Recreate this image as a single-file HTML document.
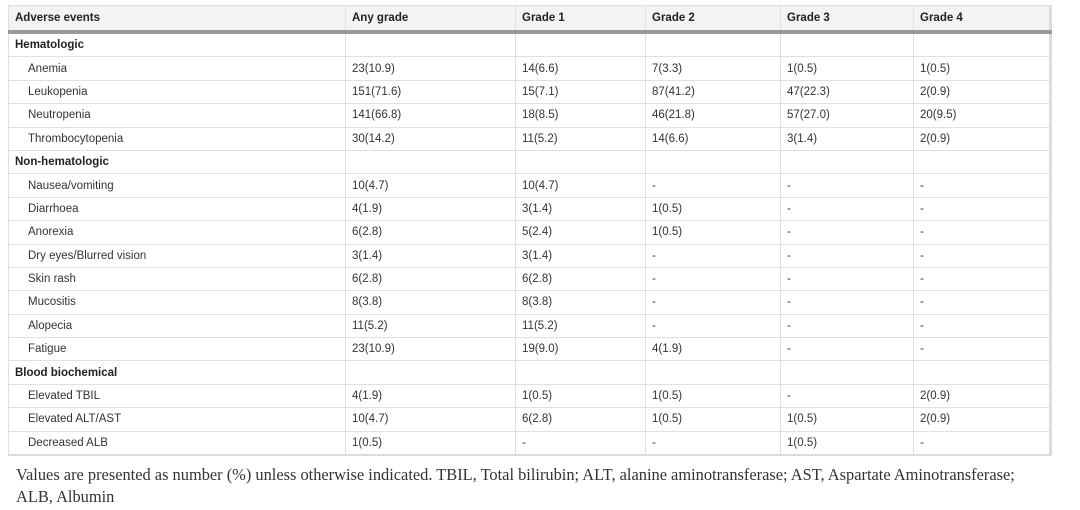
<!DOCTYPE html>
<html><head><meta charset="utf-8"><style>
body{margin:0;width:1080px;height:510px;background:#fff;font-family:"Liberation Sans",sans-serif;color:#333;overflow:hidden}
table{position:absolute;left:8px;top:5px;width:1044px;border-collapse:collapse;font-size:11.5px;border:1px solid #d6d6d6;border-right:3px solid #dcdcdc;border-bottom:2px solid #dcdcdc}
td,th{border:1px solid #e0e0e0;padding:0 6px;height:22.4px;text-align:left;white-space:nowrap}
th{background:#f3f3f3;height:24px;border-bottom:4px solid #9a9a9a;font-weight:bold;color:#222}
td.s{font-weight:bold;color:#222}
td.i{padding-left:19px}
.f{position:absolute;left:16px;top:464px;white-space:nowrap;font-family:"Liberation Serif",serif;font-size:16.4px;line-height:22px;color:#333}
</style></head><body>
<table>
<colgroup><col style="width:337px"><col style="width:170px"><col style="width:130px"><col style="width:135px"><col style="width:133px"><col></colgroup>
<tr><th>Adverse events</th><th>Any grade</th><th>Grade 1</th><th>Grade 2</th><th>Grade 3</th><th>Grade 4</th></tr>
<tr><td class="s">Hematologic</td><td></td><td></td><td></td><td></td><td></td></tr>
<tr><td class="i">Anemia</td><td>23(10.9)</td><td>14(6.6)</td><td>7(3.3)</td><td>1(0.5)</td><td>1(0.5)</td></tr>
<tr><td class="i">Leukopenia</td><td>151(71.6)</td><td>15(7.1)</td><td>87(41.2)</td><td>47(22.3)</td><td>2(0.9)</td></tr>
<tr><td class="i">Neutropenia</td><td>141(66.8)</td><td>18(8.5)</td><td>46(21.8)</td><td>57(27.0)</td><td>20(9.5)</td></tr>
<tr><td class="i">Thrombocytopenia</td><td>30(14.2)</td><td>11(5.2)</td><td>14(6.6)</td><td>3(1.4)</td><td>2(0.9)</td></tr>
<tr><td class="s">Non-hematologic</td><td></td><td></td><td></td><td></td><td></td></tr>
<tr><td class="i">Nausea/vomiting</td><td>10(4.7)</td><td>10(4.7)</td><td>-</td><td>-</td><td>-</td></tr>
<tr><td class="i">Diarrhoea</td><td>4(1.9)</td><td>3(1.4)</td><td>1(0.5)</td><td>-</td><td>-</td></tr>
<tr><td class="i">Anorexia</td><td>6(2.8)</td><td>5(2.4)</td><td>1(0.5)</td><td>-</td><td>-</td></tr>
<tr><td class="i">Dry eyes/Blurred vision</td><td>3(1.4)</td><td>3(1.4)</td><td>-</td><td>-</td><td>-</td></tr>
<tr><td class="i">Skin rash</td><td>6(2.8)</td><td>6(2.8)</td><td>-</td><td>-</td><td>-</td></tr>
<tr><td class="i">Mucositis</td><td>8(3.8)</td><td>8(3.8)</td><td>-</td><td>-</td><td>-</td></tr>
<tr><td class="i">Alopecia</td><td>11(5.2)</td><td>11(5.2)</td><td>-</td><td>-</td><td>-</td></tr>
<tr><td class="i">Fatigue</td><td>23(10.9)</td><td>19(9.0)</td><td>4(1.9)</td><td>-</td><td>-</td></tr>
<tr><td class="s">Blood biochemical</td><td></td><td></td><td></td><td></td><td></td></tr>
<tr><td class="i">Elevated TBIL</td><td>4(1.9)</td><td>1(0.5)</td><td>1(0.5)</td><td>-</td><td>2(0.9)</td></tr>
<tr><td class="i">Elevated ALT/AST</td><td>10(4.7)</td><td>6(2.8)</td><td>1(0.5)</td><td>1(0.5)</td><td>2(0.9)</td></tr>
<tr><td class="i">Decreased ALB</td><td>1(0.5)</td><td>-</td><td>-</td><td>1(0.5)</td><td>-</td></tr>
</table>
<div class="f">Values are presented as number (%) unless otherwise indicated. TBIL, Total bilirubin; ALT, alanine aminotransferase; AST, Aspartate Aminotransferase;<br>ALB, Albumin</div>
</body></html>
